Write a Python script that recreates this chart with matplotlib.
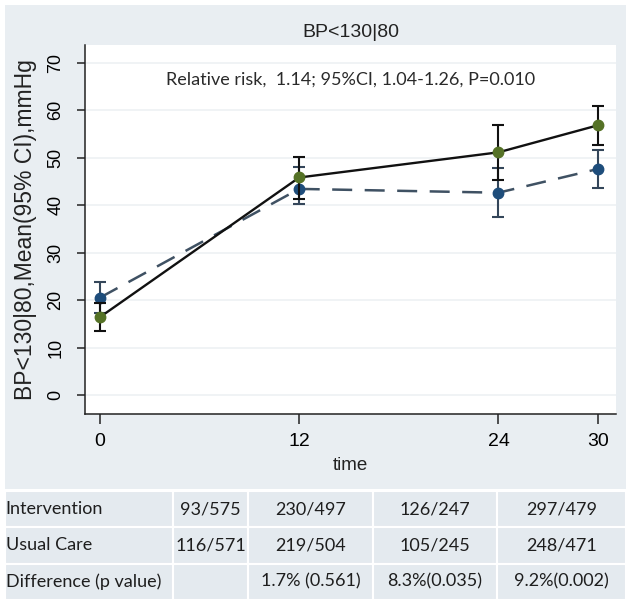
import matplotlib
matplotlib.use("Agg")
import matplotlib.pyplot as plt
from matplotlib.patches import Rectangle

# data
times = [0, 12, 24, 30]
interv_mean = [16.4, 45.8, 51.1, 56.8]
interv_lo = [13.5, 41.2, 45.3, 52.7]
interv_hi = [19.3, 50.2, 56.8, 60.9]
usual_mean = [20.5, 43.4, 42.6, 47.6]
usual_lo = [17.3, 40.3, 37.4, 43.5]
usual_hi = [23.7, 48.0, 47.9, 51.6]

y_ticks = [0, 10, 20, 30, 40, 50, 60, 70]
title = "BP<130|80"
ylabel = "BP<130|80,Mean(95% CI),mmHg"
note = "Relative risk,  1.14; 95%CI, 1.04-1.26, P=0.010"

row_labels = ["Intervention", "Usual Care", "Difference (p value)"]
interv_counts = ["93/575", "230/497", "126/247", "297/479"]
usual_counts = ["116/571", "219/504", "105/245", "248/471"]
differences = ["", "1.7% (0.561)", "8.3%(0.035)", "9.2%(0.002)"]

BG = "#e9eef2"
W, H = 626, 604
fig = plt.figure(figsize=(W / 100, H / 100), dpi=100)
fig.patch.set_facecolor("white")
fig.patches.append(Rectangle((5 / W, 4 / H), 1 - 5 / W, 1 - 9 / H,
                             transform=fig.transFigure, facecolor=BG,
                             edgecolor="none", zorder=-10))

ax = fig.add_axes([85 / W, 1 - 414 / H, (616 - 85) / W, (414 - 45) / H])
ax.set_facecolor("white")
for s in ["top", "right"]:
    ax.spines[s].set_visible(False)
for s in ["left", "bottom"]:
    ax.spines[s].set_linewidth(1.1)
    ax.spines[s].set_color("#222222")

ax.set_xlim(-0.9, 31.08)
ax.set_ylim(-4.0, 73.7)
ax.set_yticks(y_ticks)
ax.set_xticks(times)
ax.yaxis.grid(True, color="#eef1f3", lw=1.2)
ax.set_axisbelow(True)

sans = ["Liberation Sans", "DejaVu Sans"]
ax.tick_params(axis="y", length=6, width=1.1, pad=9, labelsize=13,
               labelrotation=90, color="#222222")
ax.tick_params(axis="x", length=7, width=1.1, pad=7, labelsize=14,
               color="#222222")
for lab in ax.get_yticklabels():
    lab.set_family(sans)
    lab.set_va("center")
for lab in ax.get_xticklabels():
    lab.set_family(sans)

# usual care: dashed line, blue markers
ulo = [m - l for m, l in zip(usual_mean, usual_lo)]
uhi = [h - m for m, h in zip(usual_mean, usual_hi)]
ax.errorbar(times, usual_mean, yerr=[ulo, uhi], fmt="none",
            ecolor="#34465a", elinewidth=1.5, capsize=4, capthick=1.5, zorder=2)
ax.plot(times, usual_mean, color="#3f5163", lw=1.8, ls=(0, (8, 5)), zorder=3)
ax.plot(times, usual_mean, "o", color="#1e4d7b", ms=7.5, zorder=4)

# intervention: solid line, green markers
ilo = [m - l for m, l in zip(interv_mean, interv_lo)]
ihi = [h - m for m, h in zip(interv_mean, interv_hi)]
ax.errorbar(times, interv_mean, yerr=[ilo, ihi], fmt="none",
            ecolor="#111111", elinewidth=1.5, capsize=4, capthick=1.5, zorder=5)
ax.plot(times, interv_mean, color="#111111", lw=1.7, zorder=6)
ax.plot(times, interv_mean, "o", color="#557226", ms=7.5, zorder=7)

ax.set_title(title, fontsize=14, family=sans, color="#222222", pad=6)
ax.set_ylabel(ylabel, fontsize=16.5, family=sans, color="#222222")
ax.yaxis.set_label_coords(-0.09, 0.5)
ax.set_xlabel("time", fontsize=13.5, family=sans, color="#222222", labelpad=5)
ax.text(0.5, 0.905, note, transform=ax.transAxes, ha="center", va="center",
        fontsize=13, family=["Lato", "DejaVu Sans"], color="#2a2a2a")

# summary table under the plot
tax = fig.add_axes([5 / W, 4 / H, 1 - 5 / W, 109 / H])
tax.axis("off")
cells = [[row_labels[0]] + interv_counts,
         [row_labels[1]] + usual_counts,
         [row_labels[2]] + differences]
widths = [168, 75, 125, 124, 129]
tot = sum(widths)
tbl = tax.table(cellText=cells, colWidths=[w / tot for w in widths],
                bbox=[0, 0, 1, 1], cellLoc="center")
tbl.auto_set_font_size(False)
for (r, c), cell in tbl.get_celld().items():
    cell.set_facecolor("#e4eaef")
    cell.set_edgecolor("white")
    cell.set_linewidth(1.5)
    cell.get_text().set_fontsize(13)
    cell.get_text().set_family(["Lato", "DejaVu Sans"])
    cell.get_text().set_color("#1e1e1e")
    if c == 0:
        cell.get_text().set_ha("left")
        cell._loc = "left"
        cell.PAD = 0.005

# white band above the table, as in the original
fig.patches.append(Rectangle((5 / W, 113 / H), 1 - 5 / W, 2 / H,
                             transform=fig.transFigure, facecolor="white",
                             edgecolor="none", zorder=-5))

fig.savefig("out.png", dpi=100, facecolor=fig.get_facecolor())
